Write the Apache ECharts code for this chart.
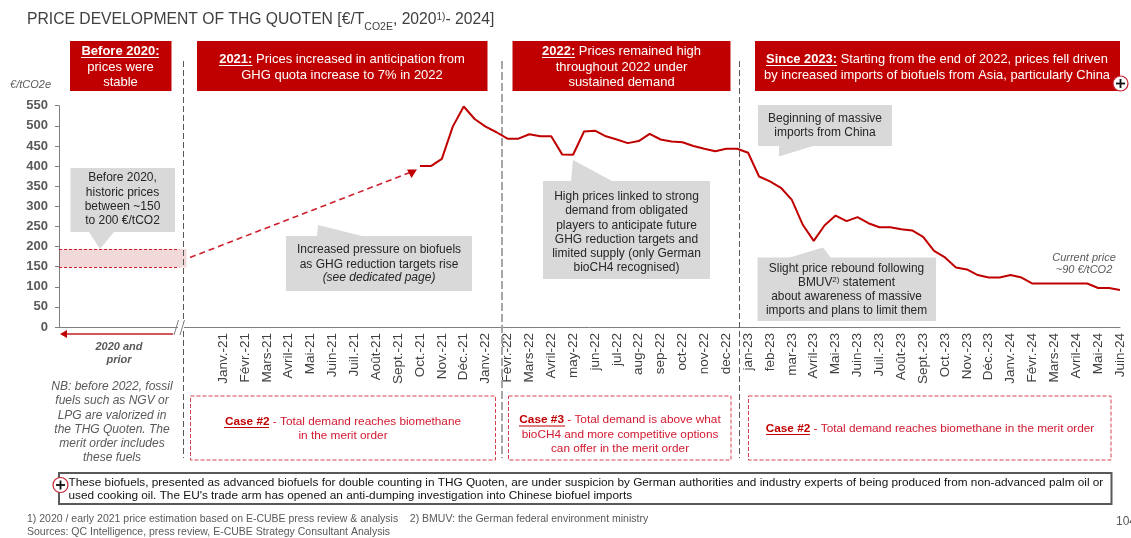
<!DOCTYPE html>
<html lang="en">
<head>
    <meta charset="UTF-8">
    <title>Price development of THG Quoten</title>
    <script src="https://cdn.jsdelivr.net/npm/echarts@6/dist/echarts.min.js"></script>
    <style>
        html, body { margin: 0; padding: 0; background: #fff; overflow: hidden; }
        #chart { width: 1131px; height: 538px; }
    </style>
</head>
<body>
<div id="chart"></div>
<script type="text/javascript">
    // month labels as printed under the axis
    var monthLabels = [
        'Janv.-21', 'Févr.-21', 'Mars-21', 'Avril-21', 'Mai-21', 'Juin-21', 'Juil.-21', 'Août-21', 'Sept.-21', 'Oct.-21', 'Nov.-21', 'Déc.-21',
        'Janv.-22', 'Févr.-22', 'Mars-22', 'Avril-22', 'may-22', 'jun-22', 'jul-22', 'aug-22', 'sep-22', 'oct-22', 'nov-22', 'dec-22',
        'jan-23', 'feb-23', 'mar-23', 'Avril-23', 'Mai-23', 'Juin-23', 'Juil.-23', 'Août-23', 'Sept.-23', 'Oct.-23', 'Nov.-23', 'Déc.-23',
        'Janv.-24', 'Févr.-24', 'Mars-24', 'Avril-24', 'Mai-24', 'Juin-24'
    ];
    // twice-monthly prices, first point is Oct.-21
    var priceValues = [
        400, 400, 418, 498, 548, 517, 498, 484, 468, 468, 479, 474, 474, 429, 428, 486,
        488, 474, 466, 457, 462, 480, 466, 461, 459, 450, 443, 437, 443, 443, 433, 374,
        362, 346, 316, 254, 214, 253, 277, 263, 273, 258, 248, 248, 243, 240, 224, 189,
        173, 148, 143, 129, 123, 123, 129, 123, 108, 108, 108, 108, 108, 108, 97, 97, 92
    ];
    var historicLow = 148;
    var historicHigh = 194;
    var yMax = 550;
    var yStep = 50;

    var blankSlots = 15;      // half-month slots left of Janv.-21 (the "2020 and prior" panel)
    var slotsBeforeFirstPrice = 18;

    var axisSlots = [];
    for (var i = 0; i < blankSlots; i++) axisSlots.push('');
    monthLabels.forEach(function (m, idx) {
        axisSlots.push(m);
        if (idx < monthLabels.length - 1) axisSlots.push('');
    });
    var lineData = [];
    for (var j = 0; j < blankSlots + slotsBeforeFirstPrice; j++) lineData.push(null);
    lineData = lineData.concat(priceValues);

    var FONT = '"Liberation Sans", Arial, sans-serif';
    var RED = '#c00000';
    var CASE_RED = '#d2182f';
    var GREY_BOX = '#d9d9d9';
    var g = [];

    function text(x, y, str, o) {
        o = o || {};
        var style = {
            text: str, x: x, y: y,
            fill: o.fill || '#262626',
            fontFamily: FONT,
            fontSize: o.size || 12,
            fontWeight: o.weight || 'normal',
            fontStyle: o.italic ? 'italic' : 'normal',
            textAlign: o.align || 'center',
            textVerticalAlign: 'middle'
        };
        if (o.rich) style.rich = o.rich;
        g.push({ type: 'text', z: 20, style: style });
    }
    function lines(x, y, pitch, arr, o) {
        arr.forEach(function (s, k) { text(x, y + k * pitch, s, o); });
    }
    function rect(x, y, w, h, style, z) {
        g.push({ type: 'rect', z: z || 10, shape: { x: x, y: y, width: w, height: h }, style: style });
    }
    function line(x1, y1, x2, y2, style, z) {
        g.push({ type: 'line', z: z || 12, shape: { x1: x1, y1: y1, x2: x2, y2: y2 }, style: style });
    }
    function poly(points, fill, z) {
        g.push({ type: 'polygon', z: z || 10, shape: { points: points }, style: { fill: fill } });
    }
    function richTokens(size, fill) {
        return {
            b: { fontFamily: FONT, fontSize: size, fontWeight: 'bold', fill: fill },
            n: { fontFamily: FONT, fontSize: size, fill: fill }
        };
    }
    function plus(x, y) {
        g.push({ type: 'circle', z: 25, shape: { cx: x, cy: y, r: 7.5 }, style: { fill: '#fff', stroke: '#c8202f', lineWidth: 1.2 } });
        line(x - 4.5, y, x + 4.5, y, { stroke: '#111', lineWidth: 1.8 }, 26);
        line(x, y - 4.5, x, y + 4.5, { stroke: '#111', lineWidth: 1.8 }, 26);
    }

    // title
    text(27, 20, '{a|PRICE DEVELOPMENT OF THG QUOTEN [€/T}{s|CO2E}{a|, 2020}{u|1)}{a|- 2024]}', {
        align: 'left',
        rich: {
            a: { fontFamily: FONT, fontSize: 15.7, fill: '#404040', lineHeight: 26 },
            s: { fontFamily: FONT, fontSize: 10.5, fill: '#404040', lineHeight: 26, verticalAlign: 'bottom' },
            u: { fontFamily: FONT, fontSize: 10, fill: '#404040', lineHeight: 26, verticalAlign: 'top', padding: [5, 0, 0, 0] }
        }
    });

    // red header boxes
    rect(70, 41, 101.5, 50, { fill: RED });
    rect(197, 41, 290.5, 50, { fill: RED });
    rect(512.5, 41, 218, 50, { fill: RED });
    rect(755, 41, 365, 50, { fill: RED });
    text(120.5, 51, 'Before 2020:', { fill: '#fff', size: 13, weight: 'bold' });
    lines(120.5, 67, 15.7, ['prices were', 'stable'], { fill: '#fff', size: 13 });
    line(81, 57.5, 159, 57.5, { stroke: '#fff', lineWidth: 1 });
    text(342, 59, '{b|2021:}{n| Prices increased in anticipation from}', { rich: richTokens(13, '#fff') });
    text(342, 75, 'GHG quota increase to 7% in 2022', { fill: '#fff', size: 13 });
    line(219, 65.5, 252.5, 65.5, { stroke: '#fff', lineWidth: 1 });
    text(621.5, 51, '{b|2022:}{n| Prices remained high}', { rich: richTokens(13, '#fff') });
    lines(621.5, 67, 15.7, ['throughout 2022 under', 'sustained demand'], { fill: '#fff', size: 13 });
    line(542, 57.5, 575, 57.5, { stroke: '#fff', lineWidth: 1 });
    text(937, 59, '{b|Since 2023:}{n| Starting from the end of 2022, prices fell driven}', { rich: richTokens(12.9, '#fff') });
    text(937, 75, 'by increased imports of biofuels from Asia, particularly China', { fill: '#fff', size: 12.9 });
    line(766, 65.5, 837, 65.5, { stroke: '#fff', lineWidth: 1 });
    plus(1120.5, 83.5);

    // period dividers
    var darkDash = { stroke: '#595959', lineWidth: 1, lineDash: [6, 3] };
    line(183.5, 61, 183.5, 458, darkDash, 5);
    line(502, 61, 502, 458, { stroke: '#a6a6a6', lineWidth: 2, lineDash: [8, 3] }, 5);
    line(739.5, 61, 739.5, 458, darkDash, 5);

    // grey callouts
    rect(70.5, 168, 104.5, 64, { fill: GREY_BOX });
    poly([[89, 232], [114, 232], [100, 249]], GREY_BOX);
    lines(122.5, 178, 14.2, ['Before 2020,', 'historic prices', 'between ~150', 'to 200 €/tCO2'], { size: 12 });

    rect(286, 236, 186, 55, { fill: GREY_BOX });
    poly([[317, 236], [318, 225], [362, 236]], GREY_BOX);
    lines(379, 250, 14.2, ['Increased pressure on biofuels', 'as GHG reduction targets rise'], { size: 12 });
    text(379, 278, '(see dedicated page)', { size: 12, italic: true });

    rect(543, 181, 167, 98, { fill: GREY_BOX });
    poly([[571, 181], [573, 160], [612, 181]], GREY_BOX);
    lines(626.5, 197, 14.1, ['High prices linked to strong', 'demand from obligated', 'players to anticipate future', 'GHG reduction targets and', 'limited supply (only German', 'bioCH4 recognised)'], { size: 12 });

    rect(758, 105, 134, 41, { fill: GREY_BOX });
    poly([[779, 146], [779, 156.5], [813, 146]], GREY_BOX);
    lines(825, 118.5, 14.2, ['Beginning of massive', 'imports from China'], { size: 12 });

    rect(757.5, 257.5, 178.5, 63.5, { fill: GREY_BOX });
    poly([[788, 258], [823, 247.5], [831, 258]], GREY_BOX);
    text(846.5, 268.5, 'Slight price rebound following', { size: 11.9 });
    text(846.5, 283, '{n|BMUV}{u|2)}{n| statement}', {
        rich: {
            n: { fontFamily: FONT, fontSize: 11.9, fill: '#262626', lineHeight: 14 },
            u: { fontFamily: FONT, fontSize: 8, fill: '#262626', lineHeight: 14, verticalAlign: 'top' }
        }
    });
    lines(846.5, 297, 14.2, ['about awareness of massive', 'imports and plans to limit them'], { size: 11.9 });

    // trims the historic band back to the divider
    rect(186.5, 247, 6, 23, { fill: '#fff' }, 11);

    // dashed trend arrow into 2021
    line(190, 257.5, 410, 172.5, { stroke: '#cf1f2e', lineWidth: 1.6, lineDash: [6, 4] }, 12);
    poly([[417, 169.5], [407, 169.5], [411.5, 178]], '#c00000', 12);

    text(1084, 257.5, 'Current price', { size: 11, italic: true, fill: '#595959' });
    text(1084, 270, '~90 €/tCO2', { size: 11, italic: true, fill: '#595959' });

    // axis break and the arrow for the pre-2021 panel
    rect(178, 324, 6, 6, { fill: '#fff' }, 13);
    line(174, 335, 178.5, 320, { stroke: '#7f7f7f', lineWidth: 1 }, 14);
    line(180, 335, 184.5, 320, { stroke: '#7f7f7f', lineWidth: 1 }, 14);
    line(66, 334, 173, 334, { stroke: '#d2575c', lineWidth: 2 }, 12);
    poly([[60, 334], [67, 330], [67, 338]], '#c00000', 12);
    lines(119, 347, 12.5, ['2020 and', 'prior'], { size: 11, weight: 'bold', italic: true, fill: '#595959' });

    lines(112, 387, 14.15, ['NB: before 2022, fossil', 'fuels such as NGV or', 'LPG are valorized in', 'the THG Quoten. The', 'merit order includes', 'these fuels'], { size: 12, italic: true, fill: '#595959' });

    // case boxes
    var caseBorder = { fill: 'none', stroke: '#d9404f', lineWidth: 1, lineDash: [4, 2] };
    rect(190.5, 396, 305, 64, caseBorder);
    rect(508.5, 396, 222.5, 64, caseBorder);
    rect(748.5, 396, 362.5, 64, caseBorder);
    var caseRich = { b: { fontFamily: FONT, fontSize: 11.8, fontWeight: 'bold', fill: RED }, n: { fontFamily: FONT, fontSize: 11.8, fill: CASE_RED } };
    text(343, 421.5, '{b|Case #2}{n| - Total demand reaches biomethane}', { rich: caseRich });
    text(343, 436, 'in the merit order', { size: 11.8, fill: CASE_RED });
    line(224, 427.5, 269, 427.5, { stroke: RED, lineWidth: 1 });
    text(620, 420, '{b|Case #3}{n| - Total demand is above what}', { rich: caseRich });
    text(620, 434.5, 'bioCH4 and more competitive options', { size: 11.8, fill: CASE_RED });
    text(620, 449, 'can offer in the merit order', { size: 11.8, fill: CASE_RED });
    line(519, 426, 565, 426, { stroke: RED, lineWidth: 1 });
    text(930, 428.5, '{b|Case #2}{n| - Total demand reaches biomethane in the merit order}', { rich: caseRich });
    line(766, 434.5, 810, 434.5, { stroke: RED, lineWidth: 1 });

    // bottom note
    rect(59, 473, 1052.5, 31, { fill: '#fff', stroke: '#595959', lineWidth: 2 });
    text(68.5, 482.5, 'These biofuels, presented as advanced biofuels for double counting in THG Quoten, are under suspicion by German authorities and industry experts of being produced from non-advanced palm oil or', { align: 'left', size: 11.8, fill: '#111' });
    text(68.5, 496, "used cooking oil. The EU's trade arm has opened an anti-dumping investigation into Chinese biofuel imports", { align: 'left', size: 11.8, fill: '#111' });
    plus(60.5, 485);

    // footnotes
    text(27, 519, '1) 2020 / early 2021 price estimation based on E-CUBE press review & analysis    2) BMUV: the German federal environment ministry', { align: 'left', size: 10.5, fill: '#595959' });
    text(27, 532, 'Sources: QC Intelligence, press review, E-CUBE Strategy Consultant Analysis', { align: 'left', size: 10.5, fill: '#595959' });
    text(1116, 522, '104', { align: 'left', size: 12, fill: '#595959' });

    var option = {
        animation: false,
        backgroundColor: '#fff',
        textStyle: { fontFamily: FONT },
        grid: { left: 59, right: 11, top: 105.7, bottom: 211, containLabel: false },
        xAxis: {
            type: 'category',
            boundaryGap: false,
            data: axisSlots,
            axisLine: { lineStyle: { color: '#7f7f7f', width: 1 } },
            axisTick: { show: false },
            axisLabel: { interval: 0, rotate: 90, margin: 6, fontSize: 13.5, color: '#404040', fontFamily: FONT }
        },
        yAxis: {
            type: 'value',
            min: 0,
            max: yMax,
            interval: yStep,
            name: '€/tCO2e',
            nameLocation: 'end',
            nameGap: 15,
            nameTextStyle: { align: 'right', padding: [0, 8, 0, 0], fontSize: 11, fontStyle: 'italic', color: '#595959', fontFamily: FONT },
            axisLine: { show: true, lineStyle: { color: '#7f7f7f', width: 1 } },
            axisTick: { show: true, length: 4, lineStyle: { color: '#7f7f7f' } },
            axisLabel: { margin: 11, fontSize: 13, fontWeight: 'bold', color: '#595959', fontFamily: FONT },
            splitLine: { show: false }
        },
        series: [{
            type: 'line',
            data: lineData,
            symbol: 'none',
            smooth: false,
            z: 15,
            lineStyle: { color: RED, width: 2 },
            markArea: {
                silent: true,
                itemStyle: { color: 'rgba(170,30,30,0.17)' },
                data: [[{ xAxis: 0, yAxis: historicHigh }, { xAxis: 12, yAxis: historicLow }]]
            },
            markLine: {
                silent: true,
                symbol: 'none',
                label: { show: false },
                lineStyle: { color: '#d2182f', type: [3, 2], width: 1 },
                data: [
                    [{ xAxis: 0, yAxis: historicHigh }, { xAxis: 11, yAxis: historicHigh }],
                    [{ xAxis: 0, yAxis: historicLow }, { xAxis: 11, yAxis: historicLow }]
                ]
            }
        }],
        graphic: g
    };

    var myChart = echarts.init(document.getElementById('chart'));
    myChart.setOption(option);
</script>
</body>
</html>
